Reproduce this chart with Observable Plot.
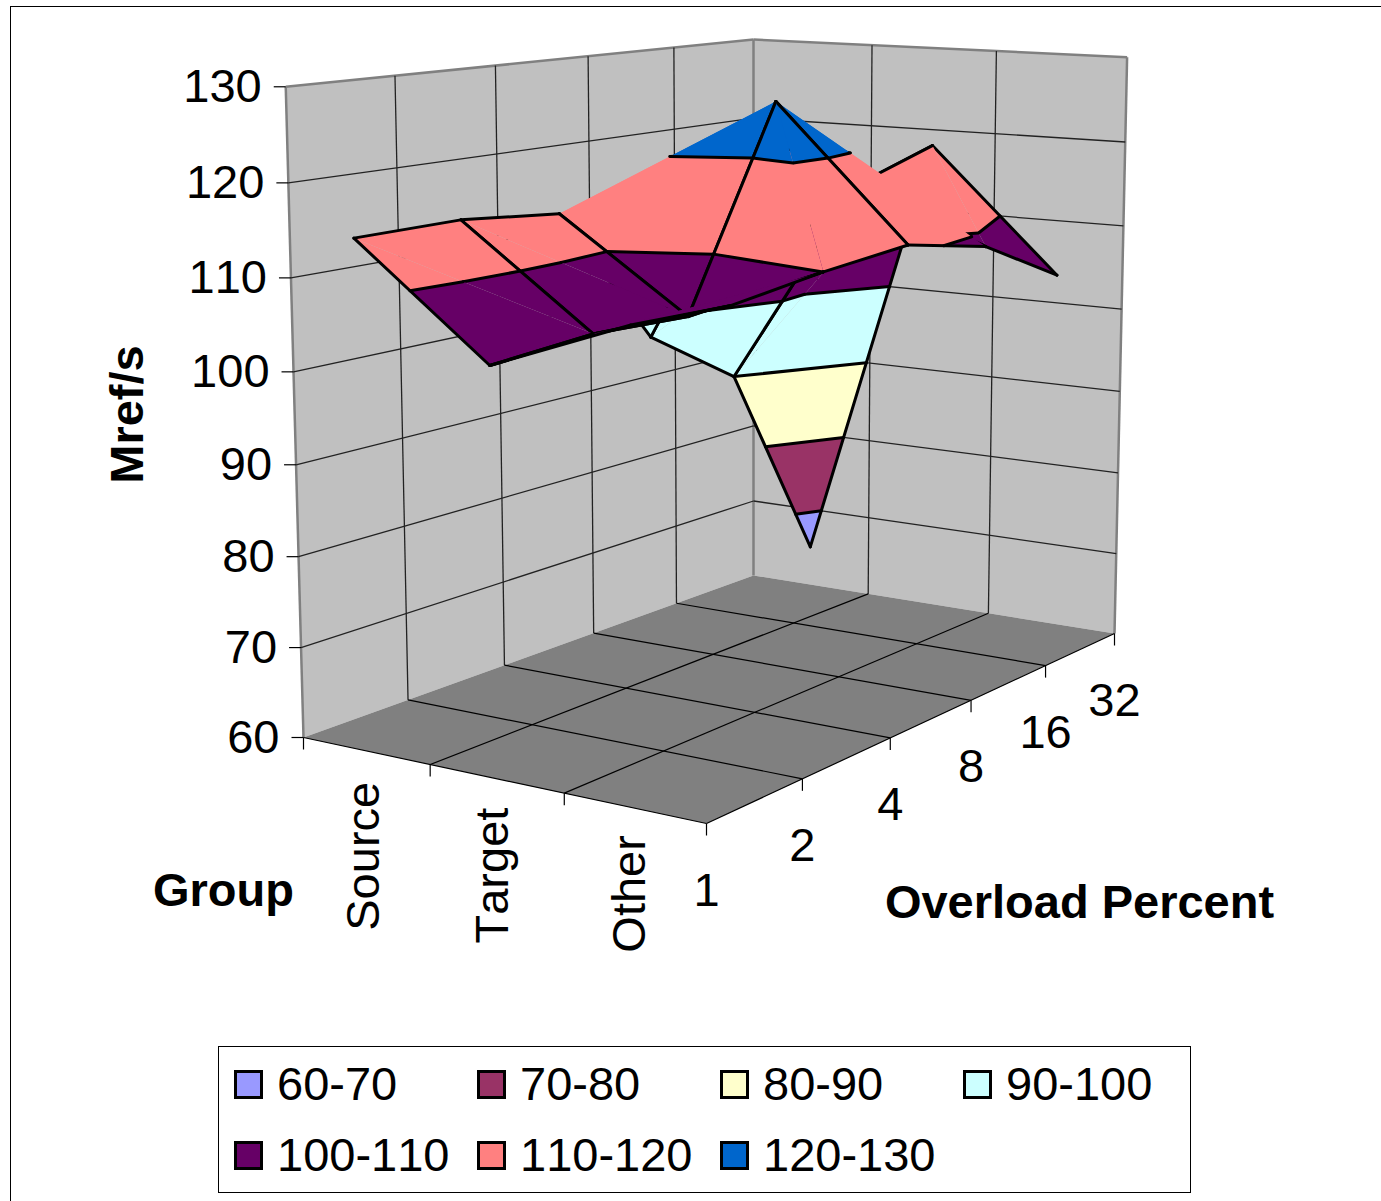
<!DOCTYPE html>
<html>
<head>
<meta charset="utf-8">
<script src="https://cdn.jsdelivr.net/npm/d3@7"></script>
<script src="https://cdn.jsdelivr.net/npm/@observablehq/plot@0.6"></script>
<style>
  html, body { margin: 0; padding: 0; background: #fff; width: 1381px; height: 1201px; overflow: hidden; }
  #page { position: relative; width: 1381px; height: 1201px; font-family: "Liberation Sans", Arial, sans-serif; font-kerning: none; }
  #frame { position: absolute; left: 10px; top: 6px; width: 1400px; height: 1300px; border: 1.5px solid #000; box-sizing: border-box; }
  #chart { position: absolute; left: 0; top: 0; width: 1381px; height: 1040px; }
  #chart svg { display: block; background: transparent; max-width: none; width: 1381px; height: 1040px; font-kerning: none; }
  #legend { position: absolute; left: 218px; top: 1046px; width: 973px; height: 147px; box-sizing: border-box;
            border: 1.5px solid #000; background: #fff; }
  .item { position: absolute; display: flex; align-items: center; height: 60px; font-size: 47px; color: #000; white-space: nowrap; }
  .item span { position: relative; top: -1px; }
  .swatch { width: 29px; height: 29px; box-sizing: border-box; border: 3px solid #000; margin-right: 14px; }
</style>
</head>
<body>
<div id="page">
  <div id="frame"></div>
  <div id="chart"></div>
  <div id="legend"></div>
</div>
<script>
// Throughput surface: Mref/s by group and overload percent.
const groups = ["Source", "Target", "Other"];
const overloads = [1, 2, 4, 8, 16, 32];
const sourceMref = [114.85, 114.92, 113.78, 97.33, 90.0, 65.02];
const targetMref = [103.25, 104.1, 103.65, 126.0, 114.87, 118.04];
const otherMref = [108.95, 108.65, 110.02, 110.96, 108.82, 103.37];
const valueTicks = [60, 70, 80, 90, 100, 110, 120, 130];
const bandLabels = ["60-70", "70-80", "80-90", "90-100", "100-110", "110-120", "120-130"];
const bandColors = ["#9999ff", "#993366", "#ffffcc", "#ccffff", "#660066", "#ff8080", "#0066cc"];

const surface = [sourceMref, targetMref, otherMref];
const W = 1381, H = 1040;
const FONT = "Liberation Sans, Arial, sans-serif";

// Perspective camera for the 3-D box: u runs along the group axis, v along
// the overload axis and w up the value axis, all on 0..1.
function project(u, v, w) {
  const d = 1 - 0.08316 * u + 0.21033 * v - 0.038 * w;
  return {
    x: (344.29 * u + 608.38 * v + 303 - 28.6 * w) / d,
    y: (17.56 * u - 41.06 * v + 737 + (-654 + 3.8 * v - 1.5 * u) * w) / d
  };
}
const wOf = (val) => (val - 60) / 70;
const uOf = (i) => (2 * i + 1) / 6;        // groups sit in the middle of their cells
const vOf = (j) => j / 5;                  // overload levels sit on the ticks

const segment = (a, b) => {
  const p = project(...a), q = project(...b);
  return { x1: p.x, y1: p.y, x2: q.x, y2: q.y };
};
const polygon = (corners, id, color) =>
  corners.map((c) => ({ ...project(...c), id, color }));

// Box walls, floor and their grids
const walls = [
  ...polygon([[0, 0, 0], [0, 1, 0], [0, 1, 1], [0, 0, 1]], "left", "#c0c0c0"),
  ...polygon([[0, 1, 0], [1, 1, 0], [1, 1, 1], [0, 1, 1]], "right", "#c0c0c0"),
  ...polygon([[0, 0, 0], [1, 0, 0], [1, 1, 0], [0, 1, 0]], "floor", "#808080")
];
const wallRules = [], floorRules = [], wallEdges = [];
for (const t of valueTicks.slice(1, -1)) {
  const w = wOf(t);
  wallRules.push(segment([0, 0, w], [0, 1, w]), segment([0, 1, w], [1, 1, w]));
}
for (let j = 1; j < overloads.length - 1; j++) {
  wallRules.push(segment([0, vOf(j), 0], [0, vOf(j), 1]));
  floorRules.push(segment([0, vOf(j), 0], [1, vOf(j), 0]));
}
for (let i = 1; i < groups.length; i++) {
  wallRules.push(segment([i / 3, 1, 0], [i / 3, 1, 1]));
  floorRules.push(segment([i / 3, 0, 0], [i / 3, 1, 0]));
}
floorRules.push(segment([0, 0, 0], [1, 0, 0]), segment([1, 0, 0], [1, 1, 0]));
wallEdges.push(
  segment([0, 0, 0], [0, 0, 1]), segment([0, 0, 1], [0, 1, 1]),
  segment([0, 1, 1], [1, 1, 1]), segment([1, 1, 1], [1, 1, 0]),
  segment([0, 1, 0], [0, 1, 1])
);

// Axis ticks hang off the box
const valueAxis = valueTicks.map((t) => ({ t, ...project(0, 0, wOf(t)) }));
const overloadAxis = overloads.map((o, j) => ({ o, ...project(1, vOf(j), 0) }));
const groupTicks = [0, 1, 2].map((i) => project(i / 3, 0, 0));
const groupAxis = groups.map((g, i) => {
  const p = project(uOf(i), 0, 0);
  return { g, x: p.x - 2 - i, y: p.y + 31 - 2 * i };
});

// Surface helpers
const vertex = (i, j) => ({ u: uOf(i), v: vOf(j), val: surface[i][j] });
const mix = (a, b, t) => ({ u: a.u + (b.u - a.u) * t, v: a.v + (b.v - a.v) * t, val: a.val + (b.val - a.val) * t });
const place = (p) => project(p.u, p.v, wOf(p.val));

function clipByValue(poly, level, keepAbove) {
  const inside = (p) => keepAbove ? p.val >= level : p.val <= level;
  const out = [];
  poly.forEach((a, k) => {
    const b = poly[(k + 1) % poly.length];
    if (inside(a)) out.push(a);
    if (inside(a) !== inside(b)) out.push(mix(a, b, (level - a.val) / (b.val - a.val)));
  });
  return out;
}
function contourSegment(tri, level) {
  const hits = [];
  tri.forEach((a, k) => {
    const b = tri[(k + 1) % 3];
    if ((a.val < level) !== (b.val < level)) hits.push(mix(a, b, (level - a.val) / (b.val - a.val)));
  });
  return hits.length === 2 ? hits : null;
}
let polyId = 0;
function triangleMarks(tri, edges) {
  const rows = [];
  bandColors.forEach((color, b) => {
    const lo = 60 + b * 10, hi = lo + 10;
    const piece = clipByValue(clipByValue(tri, lo, true), hi, false);
    if (piece.length > 2) {
      polyId++;
      piece.forEach((p) => rows.push({ ...place(p), id: polyId, color }));
    }
  });
  const segs = [];
  for (const [a, b] of edges) {
    const p = place(a), q = place(b);
    segs.push({ x1: p.x, y1: p.y, x2: q.x, y2: q.y });
  }
  for (const t of valueTicks) {
    const hit = contourSegment(tri, t);
    if (hit) {
      const p = place(hit[0]), q = place(hit[1]);
      segs.push({ x1: p.x, y1: p.y, x2: q.x, y2: q.y });
    }
  }
  return [
    Plot.line(rows, { x: "x", y: "y", z: "id", fill: "color", stroke: "none" }),
    Plot.link(segs, { x1: "x1", y1: "y1", x2: "x2", y2: "y2", stroke: "#000", strokeWidth: 3, strokeLinecap: "round" })
  ];
}

// Which way each grid cell folds: true splits it from its near-left corner to
// its far-right one. Cells are painted from the far corner forward.
const foldsAC = [
  [true, true, true, true, true],
  [false, true, false, true, false]
];
const surfaceMarks = [];
for (let i = 0; i < groups.length - 1; i++) {
  for (let j = overloads.length - 2; j >= 0; j--) {
    const A = vertex(i, j), B = vertex(i, j + 1), C = vertex(i + 1, j + 1), D = vertex(i + 1, j);
    if (foldsAC[i][j]) {
      surfaceMarks.push(...triangleMarks([A, B, C], [[A, B], [B, C]]));
      surfaceMarks.push(...triangleMarks([A, C, D], [[C, D], [D, A]]));
    } else {
      surfaceMarks.push(...triangleMarks([B, C, D], [[B, C], [C, D]]));
      surfaceMarks.push(...triangleMarks([A, B, D], [[A, B], [D, A]]));
    }
  }
}

const link = (data, options) => Plot.link(data, { x1: "x1", y1: "y1", x2: "x2", y2: "y2", ...options });

const chart = Plot.plot({
  width: W,
  height: H,
  margin: 0,
  x: { domain: [0, W], range: [0, W], axis: null },
  y: { domain: [0, H], range: [0, H], axis: null },
  color: { type: "identity" },
  style: { background: "transparent" },
  marks: [
    Plot.line(walls, { x: "x", y: "y", z: "id", fill: "color", stroke: "none" }),
    link(wallEdges, { stroke: "#808080", strokeWidth: 2.5 }),
    link(wallRules, { stroke: "#222", strokeWidth: 1.3 }),
    link(floorRules, { stroke: "#000", strokeWidth: 1.2 }),
    // value axis
    link(valueAxis.map((d) => ({ x1: d.x - 12, y1: d.y, x2: d.x, y2: d.y })), { stroke: "#000", strokeWidth: 1.2 }),
    Plot.text(valueAxis, { x: "x", y: "y", text: (d) => String(d.t), textAnchor: "end", dx: -24, fontSize: 47, fontFamily: FONT, fill: "#000" }),
    // overload axis
    link(overloadAxis.map((d) => ({ x1: d.x, y1: d.y, x2: d.x, y2: d.y + 12 })), { stroke: "#000", strokeWidth: 1.2 }),
    Plot.text(overloadAxis, { x: "x", y: "y", text: (d) => String(d.o), dy: 67, fontSize: 47, fontFamily: FONT, fill: "#000" }),
    // group axis
    link(groupTicks.map((d) => ({ x1: d.x, y1: d.y, x2: d.x, y2: d.y + 12 })), { stroke: "#000", strokeWidth: 1.2 }),
    Plot.text(groupAxis, { x: "x", y: "y", text: "g", rotate: -90, textAnchor: "end", fontSize: 47, fontFamily: FONT, fill: "#000" }),
    // axis titles
    Plot.text(["Mref/s"], { x: () => 127, y: () => 414, text: (d) => d, rotate: -90, fontSize: 47, fontWeight: "bold", fontFamily: FONT, fill: "#000" }),
    Plot.text(["Group"], { x: () => 223, y: () => 890, text: (d) => d, fontSize: 47, fontWeight: "bold", fontFamily: FONT, fill: "#000" }),
    Plot.text(["Overload Percent"], { x: () => 1079, y: () => 902, text: (d) => d, fontSize: 47, fontWeight: "bold", fontFamily: FONT, fill: "#000" }),
    ...surfaceMarks
  ]
});
document.getElementById("chart").appendChild(chart);

// Band legend below the chart, four entries to a row
const legend = document.getElementById("legend");
bandLabels.forEach((label, k) => {
  const item = document.createElement("div");
  item.className = "item";
  item.style.left = 15 + (k % 4) * 243 + "px";
  item.style.top = 7 + Math.floor(k / 4) * 71 + "px";
  const swatch = document.createElement("div");
  swatch.className = "swatch";
  swatch.style.background = bandColors[k];
  const text = document.createElement("span");
  text.textContent = label;
  item.append(swatch, text);
  legend.appendChild(item);
});
</script>
</body>
</html>
